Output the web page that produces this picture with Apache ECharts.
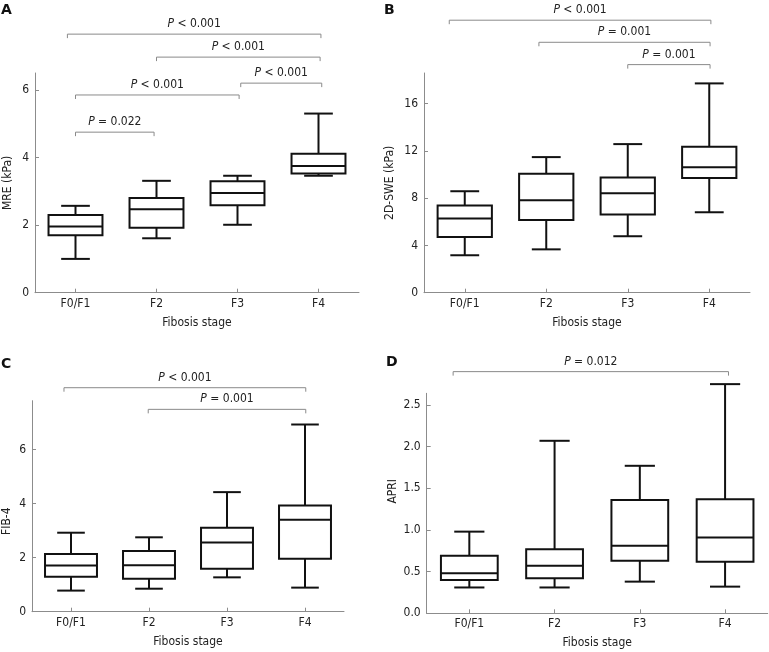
<!DOCTYPE html>
<html><head><meta charset="utf-8">
<script src="https://cdn.jsdelivr.net/npm/echarts@6/dist/echarts.min.js"></script>
<style>html,body{margin:0;padding:0;background:#fff}#c{width:769px;height:652px}</style>
</head><body><div id="c"></div>
<script>
const categories = ['F0/F1', 'F2', 'F3', 'F4'];
// each box: [min, Q1, median, Q3, max]
const mreBoxes  = [[1.00, 1.70, 1.96, 2.30, 2.57], [1.61, 1.92, 2.47, 2.80, 3.31], [2.01, 2.59, 2.95, 3.30, 3.46], [3.46, 3.53, 3.75, 4.11, 5.30]];
const sweBoxes  = [[3.17, 4.72, 6.28, 7.38, 8.59], [3.67, 6.16, 7.83, 10.06, 11.48], [4.78, 6.61, 8.42, 9.75, 12.58], [6.81, 9.72, 10.63, 12.35, 17.72]];
const fib4Boxes = [[0.78, 1.29, 1.71, 2.13, 2.92], [0.85, 1.22, 1.72, 2.24, 2.75], [1.27, 1.59, 2.56, 3.10, 4.42], [0.89, 1.96, 3.40, 3.93, 6.92]];
const apriBoxes = [[0.31, 0.40, 0.48, 0.69, 0.98], [0.31, 0.42, 0.57, 0.77, 2.07], [0.38, 0.63, 0.81, 1.36, 1.77], [0.32, 0.62, 0.91, 1.37, 2.75]];
// comparison brackets: [from category, to category, level (axis units), p text]
const mreBrackets  = [[-0.1, 3.03, 7.65, '< 0.001'], [1, 3.02, 6.97, '< 0.001'], [0, 2.02, 5.85, '< 0.001'], [2.04, 3.04, 6.20, '< 0.001'], [0, 0.97, 4.75, '= 0.022']];
const sweBrackets  = [[-0.19, 3.02, 23.07, '< 0.001'], [0.91, 3.01, 21.2, '= 0.001'], [2.0, 3.01, 19.31, '= 0.001']];
const fib4Brackets = [[-0.09, 3.01, 8.28, '< 0.001'], [0.99, 3.01, 7.48, '= 0.001']];
const apriBrackets = [[-0.19, 3.04, 2.90, '= 0.012']];
// y tick values
const mreTicks  = [0, 2, 4, 6];
const sweTicks  = [0, 4, 8, 12, 16];
const fib4Ticks = [0, 2, 4, 6];
const apriTicks = [0, 0.5, 1.0, 1.5, 2.0, 2.5];
const yNames = ['MRE (kPa)', '2D-SWE (kPa)', 'FIB-4', 'APRI'];
const xName = 'Fibosis stage';
const panelLetters = ['A', 'B', 'C', 'D'];

const FONT = '"DejaVu Sans Condensed", "DejaVu Sans", sans-serif';
const AXIS_COLOR = '#8c8c8c';
const TEXT_COLOR = '#222';

const panels = [
  {boxes: mreBoxes, brackets: mreBrackets, ticks: mreTicks, max: 6.5, grid: {left: 35, top: 73, width: 324, height: 219.7}, nameGap: 21, namePad: [0, 0, 0, 0], dec: 0},
  {boxes: sweBoxes, brackets: sweBrackets, ticks: sweTicks, max: 18.6, grid: {left: 424, top: 73, width: 326, height: 219.7}, nameGap: 28, namePad: [0, 0, 0, 0], dec: 0},
  {boxes: fib4Boxes, brackets: fib4Brackets, ticks: fib4Ticks, max: 7.8, grid: {left: 32, top: 400.7, width: 312, height: 211}, nameGap: 19, namePad: [0, 30, 0, 0], dec: 0},
  {boxes: apriBoxes, brackets: apriBrackets, ticks: apriTicks, max: 2.64, grid: {left: 426.7, top: 393.3, width: 341, height: 220}, nameGap: 28, namePad: [0, 0, 0, 24], dec: 1}
];
const letterPos = [[1, 3], [384, 3], [1, 357], [386, 355]];

function boxRender(params, api) {
  const i = api.value(0);
  const band = api.size([1, 0])[0];
  const pMin = api.coord([i, api.value(1)]);
  const pQ1 = api.coord([i, api.value(2)]);
  const pMed = api.coord([i, api.value(3)]);
  const pQ3 = api.coord([i, api.value(4)]);
  const pMax = api.coord([i, api.value(5)]);
  const x = pMed[0], hw = band * 0.333, cw = band * 0.177;
  const st = {stroke: '#111', lineWidth: 2, fill: null};
  return {type: 'group', children: [
    {type: 'line', shape: {x1: x, y1: pMax[1], x2: x, y2: pQ3[1]}, style: st},
    {type: 'line', shape: {x1: x, y1: pQ1[1], x2: x, y2: pMin[1]}, style: st},
    {type: 'line', shape: {x1: x - cw, y1: pMax[1], x2: x + cw, y2: pMax[1]}, style: st},
    {type: 'line', shape: {x1: x - cw, y1: pMin[1], x2: x + cw, y2: pMin[1]}, style: st},
    {type: 'rect', shape: {x: x - hw, y: pQ3[1], width: 2 * hw, height: pQ1[1] - pQ3[1]}, style: {stroke: '#111', lineWidth: 2, fill: '#fff'}},
    {type: 'line', shape: {x1: x - hw, y1: pMed[1], x2: x + hw, y2: pMed[1]}, style: st}
  ]};
}

function bracketRender(list) {
  return function (params, api) {
    const p1 = api.coord([api.value(0), api.value(2)]);
    const p2 = api.coord([api.value(1), api.value(2)]);
    const lab = list[params.dataIndex][3];
    return {type: 'group', children: [
      {type: 'polyline', shape: {points: [[p1[0], p1[1] + 4], p1, p2, [p2[0], p2[1] + 4]]},
       style: {stroke: '#8a8a8a', lineWidth: 1, fill: null}},
      {type: 'text', x: (p1[0] + p2[0]) / 2, y: p1[1] - 10,
       style: {text: '{p|P} ' + lab, align: 'center', verticalAlign: 'middle',
               fontFamily: FONT, fontSize: 12, fill: TEXT_COLOR,
               rich: {p: {fontStyle: 'italic', fontFamily: FONT, fontSize: 12, fill: TEXT_COLOR}}}}
    ]};
  };
}

const grid = [], xAxis = [], yAxis = [], series = [], title = [];
panels.forEach((p, k) => {
  grid.push(Object.assign({outerBoundsMode: 'none', containLabel: false}, p.grid));
  xAxis.push({
    gridIndex: k, type: 'category', data: categories, boundaryGap: true,
    name: xName, nameLocation: 'middle', nameGap: 24,
    nameTextStyle: {fontFamily: FONT, fontSize: 12, color: TEXT_COLOR},
    axisLine: {show: true, onZero: false, lineStyle: {color: AXIS_COLOR, width: 1}},
    axisTick: {show: true, inside: true, length: 4, alignWithLabel: true, lineStyle: {color: AXIS_COLOR}},
    axisLabel: {margin: 5, fontFamily: FONT, fontSize: 12, color: TEXT_COLOR},
    splitLine: {show: false}
  });
  yAxis.push({
    gridIndex: k, type: 'value', min: 0, max: p.max, position: 'left',
    name: yNames[k], nameLocation: 'middle', nameGap: p.nameGap,
    nameTextStyle: {fontFamily: FONT, fontSize: 12, color: TEXT_COLOR, padding: p.namePad},
    axisLine: {show: true, onZero: false, lineStyle: {color: AXIS_COLOR, width: 1}},
    axisTick: {show: true, inside: true, length: 4, customValues: p.ticks, lineStyle: {color: AXIS_COLOR}},
    axisLabel: {margin: 6, fontFamily: FONT, fontSize: 12, color: TEXT_COLOR, customValues: p.ticks,
                formatter: (v) => Number(v).toFixed(p.dec)},
    splitLine: {show: false}
  });
  title.push({text: panelLetters[k], left: letterPos[k][0], top: letterPos[k][1], padding: 0,
              textStyle: {fontFamily: '"DejaVu Sans", sans-serif', fontWeight: 'bold', fontSize: 14, color: '#111'}});
});
panels.forEach((p, k) => {
  xAxis.push({gridIndex: k, type: 'value', min: -0.5, max: 3.5, show: false,
              axisLine: {onZero: false}});
});
panels.forEach((p, k) => {
  series.push({
    type: 'custom', xAxisIndex: k, yAxisIndex: k, renderItem: boxRender,
    encode: {x: 0, y: [1, 2, 3, 4, 5]},
    data: p.boxes.map((b, i) => [i].concat(b)), silent: true, animation: false
  });
  series.push({
    type: 'custom', xAxisIndex: 4 + k, yAxisIndex: k, renderItem: bracketRender(p.brackets), clip: false,
    encode: {x: [0, 1], y: 2},
    data: p.brackets.map(b => [b[0], b[1], b[2]]), silent: true, animation: false
  });
});

const chart = echarts.init(document.getElementById('c'), null, {renderer: 'canvas'});
chart.setOption({backgroundColor: '#fff', animation: false, title, grid, xAxis, yAxis, series});
</script>
</body></html>
